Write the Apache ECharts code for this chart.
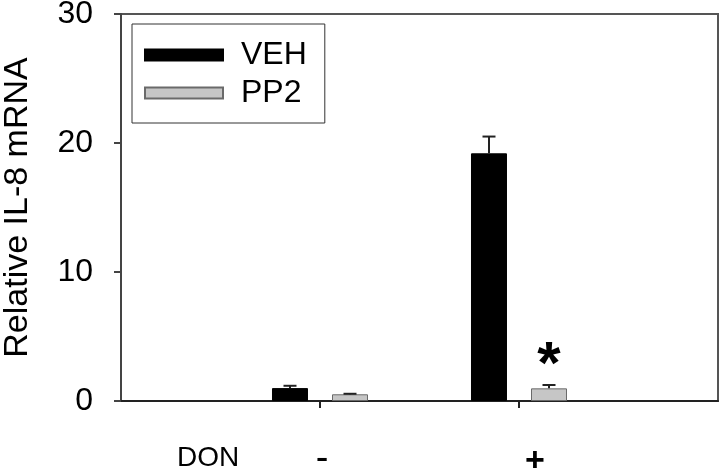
<!DOCTYPE html>
<html>
<head>
<meta charset="utf-8">
<script src="https://cdn.jsdelivr.net/npm/echarts@6/dist/echarts.min.js"></script>
<style>html,body{margin:0;padding:0;background:#fff}#c{width:720px;height:472px}</style>
</head>
<body>
<div id="c"></div>
<script>
var categories = ['-', '+'];
var vehValues = [1.0, 19.2];
var vehErr = [0.18, 1.3];
var pp2Values = [0.52, 0.98];
var pp2Err = [0.04, 0.26];
var pp2Sig = [false, true];
var yTicks = [0, 10, 20, 30];
var seriesNames = ['VEH', 'PP2'];
var xTitle = 'DON';
var yTitle = 'Relative IL-8 mRNA';

var FONT = '"Liberation Sans", Arial, sans-serif';
var axisCats = [''].concat(categories).concat(['']);
function pad(arr) { return [null].concat(arr).concat([null]); }

var BAR_W = 36, BAR_OFF = 30, CAP = 13;

function errRender(values, errs, offset, sig) {
  return function (params, api) {
    var i = api.value(0);
    var v = api.value(1), e = api.value(2);
    var base = api.coord([i, v]);
    var top = api.coord([i, v + e]);
    var x = base[0] + offset;
    var children = [
      { type: 'line', shape: { x1: x, y1: base[1], x2: x, y2: top[1] }, style: { stroke: '#222', lineWidth: 2 } },
      { type: 'line', shape: { x1: x - CAP / 2, y1: top[1], x2: x + CAP / 2, y2: top[1] }, style: { stroke: '#222', lineWidth: 2 } }
    ];
    if (sig && sig[i - 1]) {
      children.push({ type: 'text', x: x, y: top[1] - 19, style: { text: '*', fontSize: 60, fontWeight: 'bold', fontFamily: FONT, fill: '#000', align: 'center', verticalAlign: 'middle' } });
    }
    return { type: 'group', children: children };
  };
}
function errData(values, errs) {
  return values.map(function (v, k) { return [k + 1, v, errs[k]]; });
}

var chart = echarts.init(document.getElementById('c'));
chart.setOption({
  animation: false,
  grid: { left: 121, right: 2, top: 14, bottom: 71, show: true, borderColor: '#555', borderWidth: 2, containLabel: false, outerBoundsMode: 'none' },
  legend: {
    orient: 'vertical', left: 132, top: 24,
    data: seriesNames,
    itemWidth: 78, itemHeight: 11, itemGap: 6,
    padding: [15, 18, 14, 12],
    borderColor: '#333', borderWidth: 1,
    textStyle: { fontSize: 32, fontFamily: FONT, color: '#000', padding: [0, 0, 0, 13] },
    icon: 'rect'
  },
  xAxis: {
    type: 'category', data: axisCats, boundaryGap: false,
    axisLine: { lineStyle: { color: '#222', width: 2 } },
    axisTick: { length: 7, lineStyle: { color: '#222', width: 2 }, interval: function (idx) { return idx === 1 || idx === 2; } },
    axisLabel: {
      margin: 44, interval: 0, fontFamily: FONT, color: '#000',
      formatter: function (v) { return v === '+' ? '{p|+}' : (v === '-' ? '{m|-}' : v); },
      rich: {
        p: { fontSize: 34, fontWeight: 'bold', fontFamily: FONT, color: '#000', padding: [0, 0, 0, 32] },
        m: { fontSize: 38, lineHeight: 30, fontFamily: FONT, color: '#000', padding: [0, 0, 0, 4] }
      }
    }
  },
  yAxis: {
    type: 'value', min: yTicks[0], max: yTicks[yTicks.length - 1], interval: yTicks[1] - yTicks[0],
    name: yTitle, nameLocation: 'middle', nameRotate: 90, nameGap: 86,
    nameTextStyle: { fontSize: 34, fontFamily: FONT, color: '#000' },
    axisLine: { show: true, lineStyle: { color: '#444', width: 2 } },
    axisTick: { show: true, length: 7, lineStyle: { color: '#444', width: 2 } },
    axisLabel: { margin: 28, fontSize: 32, fontFamily: FONT, color: '#000' },
    splitLine: { show: false }
  },
  graphic: [{ type: 'text', left: 177, top: 444, style: { text: xTitle, fontSize: 28, fontFamily: FONT, fill: '#000' } }],
  series: [
    { name: seriesNames[0], type: 'bar', data: pad(vehValues), barWidth: BAR_W, barGap: '66.7%',
      itemStyle: { color: '#000', borderColor: '#000', borderWidth: 1 } },
    { name: seriesNames[1], type: 'bar', data: pad(pp2Values), barWidth: BAR_W,
      itemStyle: { color: '#c6c6c6', borderColor: '#6a6a6a', borderWidth: 1 } },
    { type: 'custom', renderItem: errRender(vehValues, vehErr, -BAR_OFF, null), data: errData(vehValues, vehErr), z: 5 },
    { type: 'custom', renderItem: errRender(pp2Values, pp2Err, BAR_OFF, pp2Sig), data: errData(pp2Values, pp2Err), z: 5 }
  ]
});
</script>
</body>
</html>
